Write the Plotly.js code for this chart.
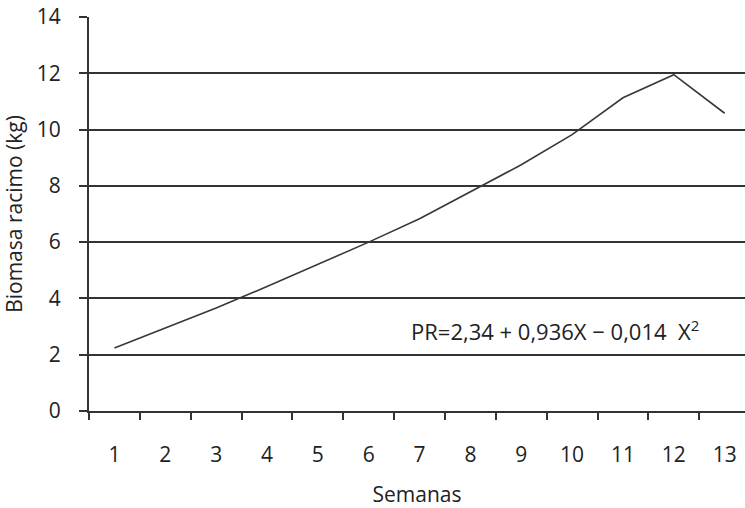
<!DOCTYPE html>
<html>
<head>
<meta charset="utf-8">
<script src="https://cdn.plot.ly/plotly-3.0.1.min.js"></script>
<style>html,body{margin:0;padding:0;background:#fff;}#chart{width:745px;height:508px;}</style>
</head>
<body>
<div id="chart"></div>
<script>
var semanas = ['1','2','3','4','5','6','7','8','9','10','11','12','13'];
var biomasa = [2.24, 2.96, 3.66, 4.42, 5.22, 6.0, 6.83, 7.8, 8.75, 9.82, 11.13, 11.95, 10.58];
var yTicks = [0, 2, 4, 6, 8, 10, 12, 14];
var equation = 'PR=2,34 + 0,936X \u2212 0,014  X<sup><span style="font-size:15px">2</span></sup>';
var xTitle = 'Semanas';
var yTitle = 'Biomasa racimo (kg)';

var font = 'Open Sans, Noto Sans, sans-serif';

var trace = {
  x: semanas, y: biomasa, type: 'scatter', mode: 'lines',
  line: {color: '#383838', width: 1.6},
  hoverinfo: 'skip'
};

var layout = {
  width: 745, height: 508,
  margin: {l: 89, r: 0, t: 17, b: 97},
  paper_bgcolor: '#ffffff', plot_bgcolor: '#ffffff',
  font: {family: font, color: '#222222', size: 21},
  showlegend: false,
  xaxis: {
    type: 'category',
    range: [-0.5, 12.4],
    tickson: 'boundaries',
    ticks: 'outside', ticklen: 7, tickwidth: 2, tickcolor: '#333333',
    showgrid: false, zeroline: false,
    showline: true, linecolor: '#333333', linewidth: 2,
    ticklabelstandoff: 24,
    tickfont: {family: font, size: 21, color: '#222222'},
    title: {text: xTitle, font: {family: font, size: 21, color: '#222222'}, standoff: 22},
    automargin: false, fixedrange: true
  },
  yaxis: {
    range: [0, 14],
    tickvals: yTicks,
    ticks: 'outside', ticklen: 8, tickwidth: 2, tickcolor: '#333333',
    showgrid: true, gridcolor: '#333333', gridwidth: 2,
    zeroline: false,
    showline: true, linecolor: '#333333', linewidth: 2,
    ticklabelstandoff: 14,
    tickfont: {family: font, size: 21, color: '#222222'},
    title: {text: yTitle, font: {family: font, size: 21, color: '#222222'}, standoff: 12},
    automargin: false, fixedrange: true
  },
  annotations: [{
    xref: 'paper', yref: 'y', x: 0.711, y: 2.85,
    xanchor: 'center', yanchor: 'middle',
    text: equation, showarrow: false,
    font: {family: font, size: 22, color: '#222222'}
  }]
};

Plotly.newPlot('chart', [trace], layout, {displayModeBar: false, staticPlot: true});
</script>
</body>
</html>
